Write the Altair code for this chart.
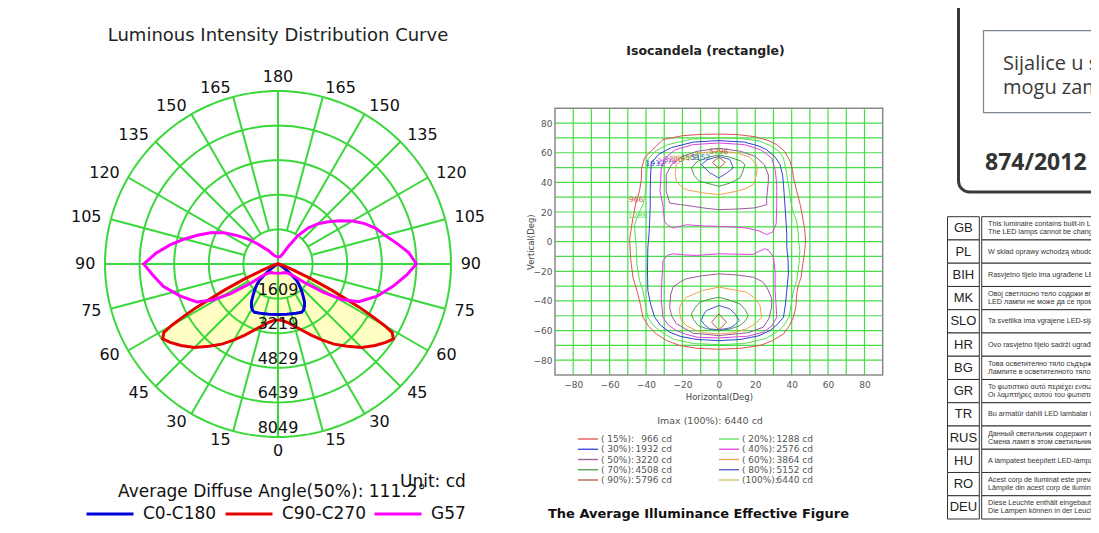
import altair as alt
import pandas as pd

FONT = "DejaVu Sans"

# ================= Polar diagram data (intensity in cd vs gamma, 0 = nadir) =================
curve_names = ["C0-C180", "C90-C270", "G57"]

plane_c0_ang = [0, 10, 20, 26, 29, 32, 35, 38, 42, 46, 49, 52, 55, 60, 70, 90]
plane_c0_cd = [2350, 2370, 2440, 2500, 2450, 2330, 2150, 1900, 1620, 1350, 1130, 700, 400, 180, 50, 0]

plane_c90_ang = [0, 5, 10, 15, 20, 25, 30, 35, 40, 45, 50, 54, 57, 59, 60, 61, 62, 64, 66, 68, 72, 80, 90]
plane_c90_cd = [2600, 2650, 2780, 3000, 3280, 3650, 4080, 4550, 5000, 5500, 5900, 6200, 6400, 6200,
                5700, 5000, 4300, 2800, 1700, 800, 300, 80, 0]

g57_right_ang = [0, 25, 40, 48, 52, 55, 58, 61, 65, 72, 79, 85, 90, 95, 100, 105, 110, 115, 120,
                 125, 130, 135, 140, 145, 150, 155, 165, 180]
g57_right_cd = [430, 460, 520, 650, 850, 1500, 2500, 3400, 4150, 4850, 5450, 6000, 6440, 6100, 5600,
                5150, 4850, 4450, 4000, 3500, 3050, 2650, 2200, 1600, 900, 500, 350, 330]
g57_left_ang = [0, 25, 40, 48, 52, 55, 58, 61, 65, 72, 79, 85, 90, 95, 100, 105, 110, 115, 120,
                125, 130, 135, 140, 145, 150, 160, 180]
g57_left_cd = [430, 460, 520, 650, 850, 1550, 2600, 3450, 4170, 4800, 5440, 5850, 6250, 5700, 5100,
               4500, 3950, 3450, 2900, 2300, 1800, 1300, 950, 750, 550, 400, 330]

ring_values = [1609.8, 3219.6, 4829.4, 6439.2, 8049.0]
ring_labels = ["1609", "3219", "4829", "6439", "8049"]
angle_ticks = [0, 15, 30, 45, 60, 75, 90, 105, 120, 135, 150, 165, 180]
spoke_angles = list(range(0, 360, 15))

polar_title = "Luminous Intensity Distribution Curve"
diffuse_text = "Average Diffuse Angle(50%): 111.2°"
unit_text = "Unit: cd"

# ================= Isocandela data (Horizontal deg, Vertical deg) =================
iso_levels = ["15%", "20%", "30%", "40%", "50%", "60%", "70%", "80%", "90%", "100%"]
iso_pct = [15, 20, 30, 40, 50, 60, 70, 80, 90, 100]
iso_cd = [966, 1288, 1932, 2576, 3220, 3864, 4508, 5152, 5796, 6440]

iso15 = [(0, 72.6), (10, 72.3), (20, 70.8), (27, 68.3), (31.8, 65.5), (36, 61), (39.2, 54.2), (40.5, 48),
         (41, 43), (42.8, 34), (44.7, 25), (46.1, 16), (47.2, 8), (47.6, 0), (47, -8), (45.8, -18),
         (45.2, -24), (43.5, -30), (42.8, -35), (42.3, -44), (41, -51), (38.6, -57), (35.5, -62.3),
         (29.5, -66.8), (22.6, -70.1), (12, -72), (0, -72.6), (-12, -72), (-21.5, -70.1), (-28.5, -66.8),
         (-34.4, -62.3), (-38.6, -57), (-41.7, -51), (-43, -43), (-44.5, -35.2), (-46, -29), (-47.2, -24),
         (-48.4, -12), (-49, 1.5), (-48.2, 8), (-47.2, 16), (-45.4, 27), (-43.6, 34), (-42.6, 42),
         (-42.4, 49.7), (-40.8, 56.5), (-36.5, 62), (-30.7, 68.9), (-20, 71.5), (-10, 72.4)]
iso20 = [(0, 70), (12, 69.6), (22, 68), (28, 65), (33, 61), (35.5, 56.5), (36.6, 50), (37.3, 45.2),
         (38.5, 36), (39.2, 29.5), (40.5, 21), (42.8, 13.7), (43.6, 6), (43.8, 0), (44.5, -6), (44, -15),
         (42.8, -26.2), (40.8, -34), (39.8, -42), (38.5, -51), (35.5, -57), (31.8, -61.1), (25.5, -65.5),
         (14, -68.8), (0, -69.5), (-14, -68.8), (-25, -65.8), (-31.6, -61.1), (-36, -56.5), (-39, -51),
         (-40.5, -42), (-41.5, -34), (-43.6, -26.2), (-45, -15), (-45.4, -3.7), (-46, 5), (-46.3, 11.4),
         (-44, 19), (-41.7, 25), (-40.5, 32), (-39.9, 38.5), (-39.5, 48), (-39, 55.4), (-35, 61),
         (-28, 65.5), (-15, 69.2)]
iso30 = [(0, 68.2), (14, 67.2), (22, 64.5), (26.3, 62), (31, 57), (33.6, 52), (35, 45), (35.5, 38.5),
         (36, 30), (36.4, 22.7), (37, 12), (37.3, 4.7), (37.3, -3.7), (38, -12), (38.2, -21.7),
         (37.3, -33), (36.6, -42), (35.5, -51), (32, -56), (28.1, -60), (22, -63.5), (12, -66), (0, -66.8),
         (-12, -66), (-21, -64), (-27, -61.1), (-32, -56.5), (-35.3, -51), (-37.5, -42), (-39, -33),
         (-39.2, -20), (-39, -3.7), (-38.4, 4), (-38, 13.7), (-37.7, 25), (-37.7, 34), (-37.5, 45),
         (-37.1, 53.1), (-33, 59), (-26, 63.5), (-14, 67.2)]
iso40_top = [(0, 66.6), (14, 65.5), (23, 62), (29, 56.5), (31, 48), (31.8, 38.5), (31.8, 25), (31.5, 12),
             (29.5, 6.5), (26.3, 4.7), (22, 7.3), (15.3, 9.2), (7, 10), (0, 10.3), (-8, 10.6), (-17.8, 11.4),
             (-22, 10.2), (-25.2, 9.2), (-28, 11), (-29.8, 13.7), (-30.8, 25), (-32.3, 34), (-31.6, 49.7),
             (-29, 57), (-24, 62), (-14, 65.5)]
iso40_bottom = [(0, -8.2), (10, -8.5), (18.9, -8.6), (23, -6), (25.2, -4.8), (27.5, -6), (30, -10.5),
                (30.9, -20), (30.9, -33), (31.4, -42), (31.8, -51), (29, -57), (24.4, -61.1), (16, -63.8),
                (0, -65), (-12, -64.5), (-18, -62.5), (-23.3, -60), (-28, -56), (-30.7, -51), (-31.6, -40),
                (-31.6, -33), (-31, -20), (-30.7, -12.7), (-28, -9), (-25.2, -8.2), (-18, -9), (-12.3, -9.3)]
iso50_top = [(0, 63), (12, 61), (20, 57.5), (25, 52), (27.2, 45), (27.2, 40.7), (26.3, 30), (26.3, 25),
             (22, 23.5), (18.9, 22.7), (10, 22), (0, 21.6), (-7, 22.5), (-14.2, 23.8), (-21, 25), (-27, 26),
             (-28.9, 34), (-28.9, 45.2), (-26, 52), (-20, 57.5), (-12, 61)]
iso50_bottom = [(0, -21.7), (10, -22.5), (18.9, -24), (24, -27), (26.3, -30.7), (29, -38), (29, -44.2),
                (27.5, -52), (24.4, -57.7), (16, -61.5), (0, -63.4), (-14, -61.8), (-23.3, -55.5),
                (-26, -50), (-27, -44.2), (-26.5, -36), (-25.2, -30.7), (-21, -27), (-17.8, -25), (-9, -23)]
iso60_top = [(0, 61), (10, 60), (17, 57), (20.8, 52), (21, 47.5), (20, 42), (18.9, 38.5), (14, 35.5),
             (9.7, 34), (0, 31.7), (-9, 33), (-17.8, 35), (-21, 37.5), (-23.3, 40.7), (-24, 46),
             (-23.3, 52), (-18, 57), (-10, 60)]
iso60_bottom = [(0, -30.7), (8, -32.5), (15.3, -34.1), (20, -38.5), (22.6, -43.1), (23.5, -51), (20, -55.5),
                (15.3, -58.8), (8, -61.5), (0, -62.3), (-8, -61.5), (-12.3, -60), (-17.5, -57),
                (-20.6, -53.2), (-21.5, -48), (-21.5, -44.2), (-20, -40.5), (-17.8, -37.5), (-9, -33)]
iso70_top = [(0, 58.5), (6, 57), (12, 54.5), (14.3, 52), (13, 47), (11.6, 43), (6, 39.5), (0, 37.3),
             (-5, 39), (-10.5, 40.7), (-13.5, 44.5), (-15.1, 49.7), (-12, 54), (-6, 57)]
iso70_bottom = [(0, -37.5), (6, -39.5), (11.6, -42), (14.5, -46), (16.2, -49.9), (14.5, -53.5),
                (11.6, -56.6), (6, -59), (0, -60), (-6, -59), (-11.4, -56.6), (-14, -52.5), (-15.1, -48.7),
                (-13, -44.5), (-10.5, -40.9), (-5, -38.8)]
iso80_top = [(0, 57.5), (6, 55.5), (7.9, 49.7), (4, 46), (0, 43), (-5, 46.5), (-9.6, 52), (-6, 55.5)]
iso80_bottom = [(0, -43.1), (6.1, -45.4), (9, -49), (11.2, -53.2), (9, -56), (6.1, -58.2), (0, -59.5),
                (-5, -58.9), (-8, -56), (-9.6, -53.2), (-8.5, -49.5), (-6.8, -46.5)]
iso90_top = [(0, 57), (3.5, 53.5), (0, 49.5), (-3.5, 53.5)]
iso90_bottom = [(0, -48.7), (4.2, -54.4), (0, -59.5), (-4, -54.4)]

iso_loops = [("15%", iso15), ("20%", iso20), ("30%", iso30), ("40%", iso40_top), ("40%", iso40_bottom),
             ("50%", iso50_top), ("50%", iso50_bottom), ("60%", iso60_top), ("60%", iso60_bottom),
             ("70%", iso70_top), ("70%", iso70_bottom), ("80%", iso80_top), ("80%", iso80_bottom),
             ("90%", iso90_top), ("90%", iso90_bottom)]

iso_label_h = [-45.4, -44.6, -35, -28.5, -25, -21, -16, -10, 0]
iso_label_v = [28.3, 17, 52.4, 54, 55, 56, 56.5, 56.3, 60.5]

iso_ticks = [-80, -60, -40, -20, 0, 20, 40, 60, 80]
iso_grid = list(range(-80, 81, 10))
iso_title = "Isocandela (rectangle)"
imax_text = "Imax (100%): 6440 cd"
figure_title = "The Average Illuminance Effective Figure"

# ================= Label panel =================
box_lines = ["Sijalice u svjetiljci se ne", "mogu zamijeniti."]
reg_text = "874/2012"
codes = ["GB", "PL", "BIH", "MK", "SLO", "HR", "BG", "GR", "TR", "RUS", "HU", "RO", "DEU"]
line1 = ["This luminaire contains built-in LED lamps.",
         "W skład oprawy wchodzą wbudowane lampy LED.",
         "Rasvjetno tijelo ima ugrađene LED sijalice.",
         "Овој светлосно тело  содржи вградени LED ламби.",
         "Ta svetilka ima vgrajene LED-sijalke.",
         "Ovo rasvjetno tijelo sadrži ugrađene LED žarulje.",
         "Това осветително тяло съдържа вградени LED лампи.",
         "Το φωτιστικό αυτό περιέχει ενσωματωμένους λαμπτήρες LED.",
         "Bu armatür dahili LED lambalar içerir.",
         "Данный светильник содержит встроенные LED лампы.",
         "A lámpatest beépített LED-lámpákat tartalmaz.",
         "Acest corp de iluminat este prevăzut cu lămpi LED.",
         "Diese Leuchte enthält eingebaute LED-Lampen."]
line2 = ["The LED lamps cannot be changed in the luminaire.",
         "", "",
         "LED лампи не може да се променат во светилката.",
         "", "",
         "Лампите в осветителното тяло не могат да се сменят.",
         "Οι λαμπτήρες αυτού του φωτιστικού δεν αλλάζουν.",
         "",
         "Смена ламп в этом светильнике невозможна.",
         "",
         "Lămpile din acest corp de iluminat nu pot fi schimbate.",
         "Die Lampen können in der Leuchte nicht ausgetauscht werden."]

# ================= styles =================
curve_colors = ["#0000dc", "#e60000", "#ff00ff"]
GREEN = "#3ad83a"
YELLOW = "#ffffc4"
ISO_GREEN = "#46dc46"
iso_colors = ["#e05050", "#55dd55", "#3040d0", "#e040e0", "#9a5a9a", "#f0a050", "#4a9a4a",
              "#4a5ac8", "#b05a3a", "#c8c060"]

PX = alt.Scale(domain=[-8049, 8049], range=[97, 443], nice=False, zero=False)
PY = alt.Scale(domain=[-8049, 8049], range=[429, 83], nice=False, zero=False)
IX = alt.Scale(domain=[-90, 90], range=[547, 874.7], nice=False, zero=False)
IY = alt.Scale(domain=[-90, 90], range=[367, 100.3], nice=False, zero=False)
CURVE_COLOR = alt.Scale(domain=curve_names, range=curve_colors)
ISO_COLOR = alt.Scale(domain=iso_levels, range=iso_colors)


def pxy(xf, yf):
    return dict(x=alt.X(f"{xf}:Q", scale=PX, axis=None), y=alt.Y(f"{yf}:Q", scale=PY, axis=None))


def ixy(xf, yf):
    return dict(x=alt.X(f"{xf}:Q", scale=IX, axis=None), y=alt.Y(f"{yf}:Q", scale=IY, axis=None))


# ---------- polar tables ----------
curve_rows = []


def add_half(name, side, angs, cds, rev):
    pts = list(zip(angs, cds))
    if rev:
        pts = pts[::-1]
    for a, c in pts:
        curve_rows.append(dict(curve=name, side=side, ang=a, cd=c, seq=len(curve_rows)))


add_half("C0-C180", 1, plane_c0_ang, plane_c0_cd, False)
add_half("C0-C180", -1, plane_c0_ang, plane_c0_cd, True)
add_half("C90-C270", 1, plane_c90_ang, plane_c90_cd, False)
add_half("C90-C270", -1, plane_c90_ang, plane_c90_cd, True)
add_half("G57", 1, g57_right_ang, g57_right_cd, False)
add_half("G57", -1, g57_left_ang, g57_left_cd, True)
curves_df = pd.DataFrame(curve_rows)

polar_calc = dict(px="datum.side*datum.cd*sin(datum.ang*PI/180)",
                  py="-datum.cd*cos(datum.ang*PI/180)")

fill_layer = alt.Chart(curves_df).transform_filter("datum.curve == 'C90-C270'").transform_calculate(
    **polar_calc).mark_line(fill=YELLOW, stroke=YELLOW, strokeWidth=1).encode(**pxy("px", "py"), order="seq:Q")

# grid circles: each ring traced around the full turn
ring_rows = [dict(ring=k, r=rv, a=a) for k, rv in enumerate(ring_values) for a in range(0, 361, 2)]
rings_layer = alt.Chart(pd.DataFrame(ring_rows)).transform_calculate(
    gx="datum.r*sin(datum.a*PI/180)", gy="-datum.r*cos(datum.a*PI/180)").mark_line(
    color=GREEN, strokeWidth=2).encode(**pxy("gx", "gy"), detail="ring:N", order="a:Q")

r_in, r_out = ring_values[0], ring_values[-1]
spokes_layer = alt.Chart(pd.DataFrame({"a": spoke_angles})).transform_calculate(
    r0=f"datum.a % 90 == 0 ? 0 : {r_in}",
    x0="datum.r0*sin(datum.a*PI/180)", y0="-datum.r0*cos(datum.a*PI/180)",
    x1=f"{r_out}*sin(datum.a*PI/180)", y1=f"-{r_out}*cos(datum.a*PI/180)").mark_rule(
    color=GREEN, strokeWidth=2).encode(**pxy("x0", "y0"), x2="x1:Q", y2="y1:Q")

curves_layer = alt.Chart(curves_df).transform_calculate(**polar_calc).mark_line(strokeWidth=3).encode(
    **pxy("px", "py"),
    color=alt.Color("curve:N", scale=CURVE_COLOR, legend=alt.Legend(
        orient="none", legendX=77, legendY=481, direction="horizontal", title=None,
        symbolType="stroke", symbolSize=2209, symbolStrokeWidth=3, labelFont=FONT, labelFontSize=17,
        labelColor="#111", labelOffset=8, columnPadding=2, padding=0)),
    order="seq:Q")

mid_ticks = [a for a in angle_ticks if 0 < a < 180]
end_ticks = [a for a in angle_ticks if a in (0, 180)]


def angle_labels(angs, side, radius, align):
    df = pd.DataFrame({"a": angs, "t": [str(a) for a in angs]})
    return alt.Chart(df).transform_calculate(
        lx=f"{side}*{radius}*sin(datum.a*PI/180)", ly=f"-{radius}*cos(datum.a*PI/180)").mark_text(
        font=FONT, fontSize=16, color="#111", baseline="middle", align=align).encode(
        **pxy("lx", "ly"), text="t:N")


alab_right = angle_labels(mid_ticks, 1, 8500, "left")
alab_left = angle_labels(mid_ticks, -1, 8500, "right")
alab_ends = angle_labels(end_ticks, 1, 8700, "center")

ring_lab_layer = alt.Chart(pd.DataFrame({"r": ring_values, "t": ring_labels})).transform_calculate(
    lx="0", ly="-datum.r").mark_text(font=FONT, fontSize=16, color="#111", baseline="middle", dy=-9).encode(
    **pxy("lx", "ly"), text="t:N")


def free_text(txt, x, y, **kw):
    return alt.Chart(pd.DataFrame({"t": [txt]})).mark_text(**kw).encode(
        x=alt.value(x), y=alt.value(y), text="t:N")


polar_title_layer = free_text(polar_title, 270, 28, font=FONT, fontSize=18, color="#222")
diffuse_layer = free_text(diffuse_text, 110, 484, font=FONT, fontSize=17, color="#111", align="left")
unit_layer = free_text(unit_text, 392, 474, font=FONT, fontSize=17, color="#111", align="left")

# ---------- isocandela ----------
gridv = alt.Chart(pd.DataFrame({"g": iso_grid})).transform_calculate(lo="-90", hi="90").mark_rule(
    color=ISO_GREEN, strokeWidth=1.2).encode(x=alt.X("g:Q", scale=IX, axis=None),
                                            y=alt.Y("lo:Q", scale=IY, axis=None), y2="hi:Q")
gridh = alt.Chart(pd.DataFrame({"g": iso_grid})).transform_calculate(lo="-90", hi="90").mark_rule(
    color=ISO_GREEN, strokeWidth=1.2).encode(y=alt.Y("g:Q", scale=IY, axis=None),
                                            x=alt.X("lo:Q", scale=IX, axis=None), x2="hi:Q")

frame = alt.Chart(pd.DataFrame({"a": [-90], "b": [90]})).mark_rect(
    fill="white", fillOpacity=0, stroke="#8a8a8a", strokeWidth=1.5).encode(
    x=alt.X("a:Q", scale=IX, axis=alt.Axis(
        orient="bottom", offset=-146, values=iso_ticks, grid=False, ticks=False, domain=False,
        labelFont=FONT, labelFontSize=9, labelColor="#555", labelPadding=5,
        title="Horizontal(Deg)", titleFont=FONT, titleFontSize=8.5, titleFontWeight="normal",
        titleColor="#444", titlePadding=3)),
    x2="b:Q",
    y=alt.Y("a:Q", scale=IY, axis=alt.Axis(
        orient="left", offset=-547, values=iso_ticks, grid=False, ticks=False, domain=False,
        labelFont=FONT, labelFontSize=9, labelColor="#555", labelPadding=3,
        title="Vertical(Deg)", titleFont=FONT, titleFontSize=8.5, titleFontWeight="normal",
        titleColor="#444", titleX=-20)),
    y2="b:Q")

cont_rows = []
for ci, (lev, pts) in enumerate(iso_loops):
    for si, (h, v) in enumerate(pts):
        cont_rows.append(dict(level=lev, comp=ci, seq=si, h=h, v=v))
contours = alt.Chart(pd.DataFrame(cont_rows)).mark_line(strokeWidth=1, interpolate="linear-closed").encode(
    **ixy("h", "v"), color=alt.Color("level:N", scale=ISO_COLOR, legend=None),
    detail="comp:N", order="seq:Q")

clab_df = pd.DataFrame({"level": iso_levels[:9], "h": iso_label_h, "v": iso_label_v,
                        "t": [str(c) for c in iso_cd[:9]]})
cont_labels = alt.Chart(clab_df).mark_text(font=FONT, fontSize=7.5, baseline="middle").encode(
    **ixy("h", "v"), text="t:N", color=alt.Color("level:N", scale=ISO_COLOR, legend=None))

iso_title_layer = free_text(iso_title, 697.5, 43, font=FONT, fontSize=12.5, fontWeight="bold", color="#222")
imax_layer = free_text(imax_text, 702, 413, font=FONT, fontSize=9.5, color="#555")
fig_title_layer = free_text(figure_title, 690.5, 506, font=FONT, fontSize=13, fontWeight="bold", color="#111")

leg_df = pd.DataFrame({"k": list(range(len(iso_levels))), "level": iso_levels,
                       "lab": [f"({p:>3}%):" for p in iso_pct], "val": [f"{c} cd" for c in iso_cd]})
leg_base = alt.Chart(leg_df).transform_calculate(
    col="datum.k % 2", row="floor(datum.k / 2)",
    lx1="570 + datum.col*141", lx2="590 + datum.col*141",
    tx="593 + datum.col*141", vx="664 + datum.col*141", ly="431 + datum.row*10.25")
leg_rules = leg_base.mark_rule(strokeWidth=1.3).encode(
    x=alt.X("lx1:Q", scale=None), x2="lx2:Q", y=alt.Y("ly:Q", scale=None),
    color=alt.Color("level:N", scale=ISO_COLOR, legend=None))
leg_labs = leg_base.mark_text(font=FONT, fontSize=9, color="#555", align="left", baseline="middle").encode(
    x=alt.X("tx:Q", scale=None), y=alt.Y("ly:Q", scale=None), text="lab:N")
leg_vals = leg_base.mark_text(font=FONT, fontSize=9, color="#555", align="right", baseline="middle").encode(
    x=alt.X("vx:Q", scale=None), y=alt.Y("ly:Q", scale=None), text="val:N")

# ---------- label panel ----------
one = pd.DataFrame({"t": [""]})
outer_box = alt.Chart(one).mark_rect(cornerRadius=11, fill="white", fillOpacity=0, stroke="#3a3a3a",
                                     strokeWidth=3).encode(
    x=alt.value(950.5), x2=alt.value(1300), y=alt.value(-60), y2=alt.value(184))
inner_box = alt.Chart(one).mark_rect(fill="white", fillOpacity=0, stroke="#7d8793", strokeWidth=1.3).encode(
    x=alt.value(975.5), x2=alt.value(1300), y=alt.value(22.7), y2=alt.value(104.7))
box_t1 = free_text(box_lines[0], 995, 62, font="Open Sans", fontSize=20, color="#3a3a3a", align="left",
                   baseline="alphabetic")
box_t2 = free_text(box_lines[1], 995, 86, font="Open Sans", fontSize=20, color="#3a3a3a", align="left",
                   baseline="alphabetic")
reg_layer = free_text(reg_text, 977, 162, font="Open Sans", fontSize=23, fontWeight="bold", color="#333",
                      align="left", baseline="alphabetic")

TY = alt.Scale(domain=codes, range=[208.7, 511], paddingInner=0, paddingOuter=0)
tab_df = pd.DataFrame({"code": codes, "l1": line1, "l2": line2})
tab_base = alt.Chart(tab_df)
code_cells = tab_base.mark_rect(fill="white", stroke="#333", strokeWidth=1).encode(
    x=alt.value(939.5), x2=alt.value(971.3), y=alt.Y("code:N", scale=TY, axis=None))
text_cells = tab_base.mark_rect(fill="white", stroke="#333", strokeWidth=1).encode(
    x=alt.value(973.7), x2=alt.value(1300), y=alt.Y("code:N", scale=TY, axis=None))
code_text = tab_base.mark_text(font="Liberation Sans", fontSize=13, color="#222", baseline="middle").encode(
    x=alt.value(955.4), y=alt.Y("code:N", scale=TY, axis=None), text="code:N")
single_text = tab_base.transform_filter("datum.l2 == ''").mark_text(
    font="Liberation Sans", fontSize=7.2, color="#333", align="left", baseline="middle").encode(
    x=alt.value(980), y=alt.Y("code:N", scale=TY, axis=None), text="l1:N")
first_text = tab_base.transform_filter("datum.l2 != ''").mark_text(
    font="Liberation Sans", fontSize=7.2, color="#333", align="left", baseline="middle", dy=-4).encode(
    x=alt.value(980), y=alt.Y("code:N", scale=TY, axis=None), text="l1:N")
second_text = tab_base.transform_filter("datum.l2 != ''").mark_text(
    font="Liberation Sans", fontSize=7.2, color="#333", align="left", baseline="middle", dy=4).encode(
    x=alt.value(980), y=alt.Y("code:N", scale=TY, axis=None), text="l2:N")

chart = alt.layer(
    fill_layer, rings_layer, spokes_layer, curves_layer, alab_right, alab_left, alab_ends, ring_lab_layer,
    polar_title_layer, diffuse_layer, unit_layer,
    gridv, gridh, contours, frame, cont_labels, iso_title_layer, imax_layer, fig_title_layer,
    leg_rules, leg_labs, leg_vals,
    outer_box, inner_box, box_t1, box_t2, reg_layer,
    code_cells, text_cells, code_text, single_text, first_text, second_text,
).resolve_scale(x="independent", y="independent", color="independent").properties(
    width=1083, height=513, padding=0, autosize=alt.AutoSizeParams(type="none"),
    background="white").configure_view(stroke=None)

chart.save("out.html", embed_options={"renderer": "svg", "actions": False})
